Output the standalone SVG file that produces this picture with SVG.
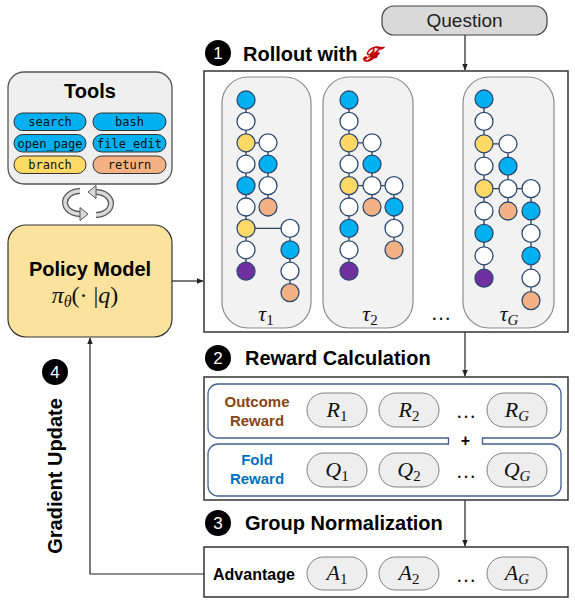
<svg xmlns="http://www.w3.org/2000/svg" width="575" height="609" viewBox="0 0 575 609">
<defs>
<style>
.box{fill:#fff;stroke:#333;stroke-width:1.5}
.pill{fill:#eeeeee;stroke:#808080;stroke-width:1}
.h{font-family:"Liberation Sans",Arial,sans-serif;font-weight:bold;font-size:20px;fill:#000}
.lbl{font-family:"Liberation Sans",Arial,sans-serif;font-weight:bold;font-size:15px;text-anchor:middle}
.math{font-family:"Liberation Serif","DejaVu Serif",serif;font-style:italic;font-size:22px;text-anchor:middle;fill:#111}
.sub{font-style:normal;font-size:15px}
.subi{font-style:italic;font-size:15px}
.tool{font-family:"DejaVu Sans Mono","Liberation Mono",monospace;font-size:12px;text-anchor:middle;fill:#111}
.tp{stroke:#333;stroke-width:1}
.num{fill:#000}
.numt{font-family:"Liberation Sans",Arial,sans-serif;font-size:17px;fill:#fff;text-anchor:middle}
.panel{fill:#f2f2f2;stroke:#8c8c8c;stroke-width:1.2}
.e{stroke:#2e3e55;stroke-width:1.3;fill:none}
.n{stroke:#2e4a70;stroke-width:1.3}
.b{fill:#00b0f0}.w{fill:#fff}.y{fill:#ffd966}.o{fill:#f4b183}.p{fill:#7030a0}
.conn{stroke:#222;stroke-width:1.2;fill:none}
.ib{fill:#fff;stroke:#44618f;stroke-width:1.3}
.dots{font-family:"Liberation Serif",serif;font-size:20px;text-anchor:middle;fill:#111}
</style>
<marker id="ah" viewBox="0 0 10 10" refX="9" refY="5" markerWidth="7" markerHeight="7" orient="auto-start-reverse" markerUnits="userSpaceOnUse">
<path d="M0,1 L10,5 L0,9 z" fill="#222"/>
</marker>
</defs>

<g id="question">
<rect x="382" y="6" width="165" height="29" rx="12" fill="#d9d9d9" stroke="#444" stroke-width="1.2"/>
<text x="464.5" y="27" font-family="Liberation Sans,Arial,sans-serif" font-size="19" text-anchor="middle" fill="#222">Question</text>
</g>

<g id="tools">
<rect x="8" y="72" width="164" height="112" rx="16" fill="#efefef" stroke="#555" stroke-width="1.3"/>
<text x="90" y="98" class="h" font-size="21" text-anchor="middle">Tools</text>
<rect class="tp b" x="14" y="113" width="72" height="17.5" rx="8.7"/>
<text class="tool" x="50" y="126">search</text>
<rect class="tp b" x="93" y="113" width="73" height="17.5" rx="8.7"/>
<text class="tool" x="129.5" y="126">bash</text>
<rect class="tp b" x="14" y="134.5" width="72" height="17.5" rx="8.7"/>
<text class="tool" x="50" y="147.5">open_page</text>
<rect class="tp b" x="93" y="134.5" width="73" height="17.5" rx="8.7"/>
<text class="tool" x="129.5" y="147.5">file_edit</text>
<rect class="tp y" x="14" y="156" width="72" height="17.5" rx="8.7"/>
<text class="tool" x="50" y="169">branch</text>
<rect class="tp o" x="93" y="156" width="73" height="17.5" rx="8.7"/>
<text class="tool" x="129.5" y="169">return</text>
</g>

<g id="cycle">
<path d="M 80 191 A 15 11.5 0 0 0 80 214" fill="none" stroke="#555" stroke-width="6"/>
<path d="M 80 191 A 15 11.5 0 0 0 80 214" fill="none" stroke="#d9d9d9" stroke-width="3.6"/>
<polygon points="80,207.5 88,214 80,220.5" fill="#d9d9d9" stroke="#555" stroke-width="1"/>
<path d="M 96 215 A 15 11.5 0 0 0 96 192" fill="none" stroke="#555" stroke-width="6"/>
<path d="M 96 215 A 15 11.5 0 0 0 96 192" fill="none" stroke="#d9d9d9" stroke-width="3.6"/>
<polygon points="96,185.5 88,192 96,198.5" fill="#d9d9d9" stroke="#555" stroke-width="1"/>
</g>

<g id="policy">
<rect x="8" y="225" width="164" height="112" rx="18" fill="#fbe39d" stroke="#333" stroke-width="1.2"/>
<text x="90" y="276" class="h" text-anchor="middle">Policy Model</text>
<text x="85" y="303" font-family="Liberation Serif,DejaVu Serif,serif" font-size="24" text-anchor="middle" fill="#111"><tspan font-style="italic">π</tspan><tspan font-style="italic" font-size="16" dy="4">θ</tspan><tspan dy="-4">(· |</tspan><tspan font-style="italic">q</tspan><tspan>)</tspan></text>
</g>

<g id="step1">
<circle class="num" cx="218" cy="53" r="13"/>
<text class="numt" x="218" y="59">1</text>
<text class="h" x="243" y="61">Rollout with <tspan fill="#c00000" font-family="DejaVu Sans,serif" font-style="italic">𝓕</tspan></text>
</g>

<g id="rollout">
<rect class="box" x="204" y="71" width="364" height="261"/>
</g>

<g id="traj1">
<rect class="panel" x="222" y="77" width="89" height="251" rx="26"/>
<path class="e" d="M246 100V271.2 M268 142.8V207 M290 228.4V292.6 M246 142.8H268 M246 228.4H290"/>
<circle class="n b" cx="246" cy="100" r="9"/>
<circle class="n w" cx="246" cy="121.4" r="9"/>
<circle class="n y" cx="246" cy="142.8" r="9"/>
<circle class="n w" cx="246" cy="164.2" r="9"/>
<circle class="n b" cx="246" cy="185.6" r="9"/>
<circle class="n w" cx="246" cy="207" r="9"/>
<circle class="n y" cx="246" cy="228.4" r="9"/>
<circle class="n w" cx="246" cy="249.8" r="9"/>
<circle class="n p" cx="246" cy="271.2" r="9"/>
<circle class="n w" cx="268" cy="142.8" r="9"/>
<circle class="n b" cx="268" cy="164.2" r="9"/>
<circle class="n w" cx="268" cy="185.6" r="9"/>
<circle class="n o" cx="268" cy="207" r="9"/>
<circle class="n w" cx="290" cy="228.4" r="9"/>
<circle class="n b" cx="290" cy="249.8" r="9"/>
<circle class="n w" cx="290" cy="271.2" r="9"/>
<circle class="n o" cx="290" cy="292.6" r="9"/>
<text class="math" x="266" y="321" font-size="25">τ<tspan class="sub" font-size="17" dy="4">1</tspan></text>
</g>

<g id="traj2">
<rect class="panel" x="323" y="77" width="90" height="251" rx="26"/>
<path class="e" d="M349 100V271.2 M372 142.8V207 M394 185.6V249.8 M349 142.8H372 M349 185.6H394"/>
<circle class="n b" cx="349" cy="100" r="9"/>
<circle class="n w" cx="349" cy="121.4" r="9"/>
<circle class="n y" cx="349" cy="142.8" r="9"/>
<circle class="n w" cx="349" cy="164.2" r="9"/>
<circle class="n y" cx="349" cy="185.6" r="9"/>
<circle class="n w" cx="349" cy="207" r="9"/>
<circle class="n b" cx="349" cy="228.4" r="9"/>
<circle class="n w" cx="349" cy="249.8" r="9"/>
<circle class="n p" cx="349" cy="271.2" r="9"/>
<circle class="n w" cx="372" cy="142.8" r="9"/>
<circle class="n b" cx="372" cy="164.2" r="9"/>
<circle class="n w" cx="372" cy="185.6" r="9"/>
<circle class="n o" cx="372" cy="207" r="9"/>
<circle class="n w" cx="394" cy="185.6" r="9"/>
<circle class="n b" cx="394" cy="207" r="9"/>
<circle class="n w" cx="394" cy="228.4" r="9"/>
<circle class="n o" cx="394" cy="249.8" r="9"/>
<text class="math" x="370" y="321" font-size="25">τ<tspan class="sub" font-size="17" dy="4">2</tspan></text>
</g>

<text class="dots" x="441" y="320">…</text>

<g id="trajG">
<rect class="panel" x="463" y="77" width="91" height="251" rx="26"/>
<path class="e" d="M484 99V278.2 M508 143.8V211 M531 188.6V300.6 M484 143.8H508 M484 188.6H531"/>
<circle class="n b" cx="484" cy="99" r="9"/>
<circle class="n w" cx="484" cy="121.4" r="9"/>
<circle class="n y" cx="484" cy="143.8" r="9"/>
<circle class="n w" cx="484" cy="166.2" r="9"/>
<circle class="n y" cx="484" cy="188.6" r="9"/>
<circle class="n w" cx="484" cy="211" r="9"/>
<circle class="n b" cx="484" cy="233.4" r="9"/>
<circle class="n w" cx="484" cy="255.8" r="9"/>
<circle class="n p" cx="484" cy="278.2" r="9"/>
<circle class="n w" cx="508" cy="143.8" r="9"/>
<circle class="n b" cx="508" cy="166.2" r="9"/>
<circle class="n w" cx="508" cy="188.6" r="9"/>
<circle class="n o" cx="508" cy="211" r="9"/>
<circle class="n w" cx="531" cy="188.6" r="9"/>
<circle class="n b" cx="531" cy="211" r="9"/>
<circle class="n w" cx="531" cy="233.4" r="9"/>
<circle class="n b" cx="531" cy="255.8" r="9"/>
<circle class="n w" cx="531" cy="278.2" r="9"/>
<circle class="n o" cx="531" cy="300.6" r="9"/>
<text class="math" x="509" y="321" font-size="25">τ<tspan class="subi" font-size="17" dy="4">G</tspan></text>
</g>

<g id="step2">
<circle class="num" cx="218" cy="358" r="13"/>
<text class="numt" x="218" y="364">2</text>
<text class="h" x="245" y="365">Reward Calculation</text>
</g>

<g id="reward">
<rect class="box" x="204" y="377" width="364" height="123"/>
<rect class="ib" x="208" y="384" width="353" height="54" rx="10"/>
<rect class="ib" x="208" y="444" width="353" height="52" rx="10"/>
<rect x="449" y="436" width="33" height="10" fill="#fff"/>
<path d="M448.5 437.5V444.5 M482.5 437.5V444.5" stroke="#44618f" stroke-width="1.3"/>
<text x="465.5" y="446" font-family="Liberation Sans,Arial,sans-serif" font-weight="bold" font-size="16" text-anchor="middle">+</text>
<text class="lbl" x="257" y="407" fill="#8b4513">Outcome</text>
<text class="lbl" x="257" y="426" fill="#8b4513">Reward</text>
<text class="lbl" x="257" y="465" fill="#0070c0">Fold</text>
<text class="lbl" x="257" y="484" fill="#0070c0">Reward</text>
<rect class="pill" x="307" y="393" width="60" height="34" rx="17"/>
<text class="math" x="337" y="417">R<tspan class="sub" dy="4">1</tspan></text>
<rect class="pill" x="379" y="393" width="60" height="34" rx="17"/>
<text class="math" x="409" y="417">R<tspan class="sub" dy="4">2</tspan></text>
<text class="dots" x="466" y="418">…</text>
<rect class="pill" x="487" y="393" width="60" height="34" rx="17"/>
<text class="math" x="517" y="417">R<tspan class="subi" dy="4">G</tspan></text>
<rect class="pill" x="307" y="453" width="60" height="34" rx="17"/>
<text class="math" x="337" y="477">Q<tspan class="sub" dy="4">1</tspan></text>
<rect class="pill" x="379" y="453" width="60" height="34" rx="17"/>
<text class="math" x="409" y="477">Q<tspan class="sub" dy="4">2</tspan></text>
<text class="dots" x="466" y="478">…</text>
<rect class="pill" x="487" y="453" width="60" height="34" rx="17"/>
<text class="math" x="517" y="477">Q<tspan class="subi" dy="4">G</tspan></text>
</g>

<g id="step3">
<circle class="num" cx="218" cy="523" r="13"/>
<text class="numt" x="218" y="529">3</text>
<text class="h" x="245" y="530">Group Normalization</text>
</g>

<g id="advantage">
<rect class="box" x="204" y="547" width="364" height="50"/>
<text x="213" y="580" font-family="Liberation Sans,Arial,sans-serif" font-weight="bold" font-size="16">Advantage</text>
<rect class="pill" x="307" y="557" width="60" height="33" rx="16.5"/>
<text class="math" x="337" y="580">A<tspan class="sub" dy="4">1</tspan></text>
<rect class="pill" x="379" y="557" width="60" height="33" rx="16.5"/>
<text class="math" x="409" y="580">A<tspan class="sub" dy="4">2</tspan></text>
<text class="dots" x="466" y="582">…</text>
<rect class="pill" x="487" y="557" width="60" height="33" rx="16.5"/>
<text class="math" x="517" y="580">A<tspan class="subi" dy="4">G</tspan></text>
</g>

<g id="step4">
<circle class="num" cx="55" cy="372" r="13"/>
<text class="numt" x="55" y="378">4</text>
<text class="h" transform="translate(62,476) rotate(-90)" text-anchor="middle">Gradient Update</text>
</g>

<g id="connectors">
<path class="conn" d="M465 35V70" marker-end="url(#ah)"/>
<path class="conn" d="M172 281H203" marker-end="url(#ah)"/>
<path class="conn" d="M465 332V376" marker-end="url(#ah)"/>
<path class="conn" d="M465 500V546" marker-end="url(#ah)"/>
<path class="conn" d="M204 574H90V338" marker-end="url(#ah)"/>
</g>
</svg>
